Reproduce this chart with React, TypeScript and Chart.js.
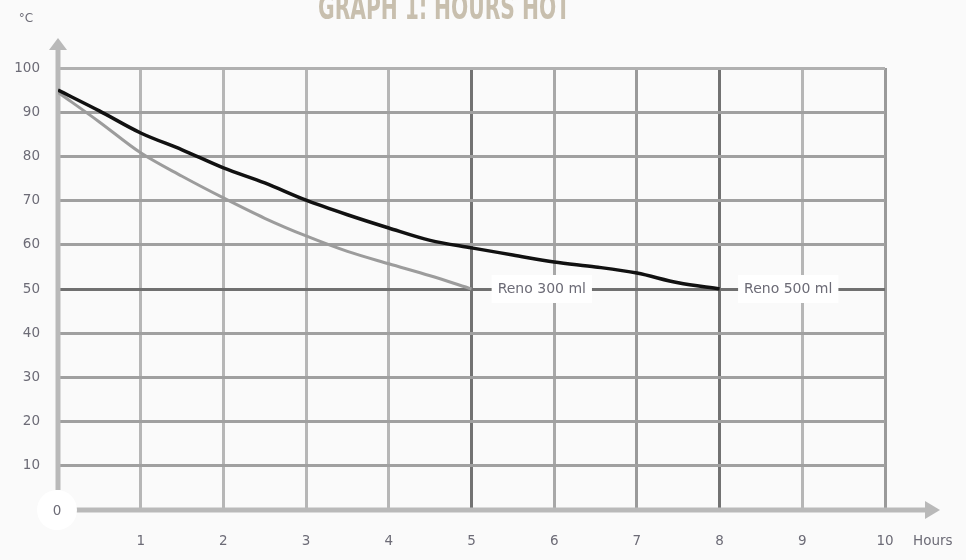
import React, { useEffect, useRef } from "react";
import { Chart, registerables } from "chart.js";

Chart.register(...registerables);

const titleText = "GRAPH 1: HOURS HOT";
const yUnit = "°C";
const xUnit = "Hours";

const hours500 = [0, 0.5, 1, 1.5, 2, 2.5, 3, 3.5, 4, 4.5, 5, 5.5, 6, 6.5, 7, 7.5, 8];
const reno500 = [95, 90.3, 85.3, 81.5, 77.4, 74, 70.1, 66.8, 63.8, 61, 59.3, 57.7, 56.1, 55, 53.6, 51.4, 50];

const hours300 = [0, 0.5, 1, 1.5, 2, 2.5, 3, 3.5, 4, 4.5, 5];
const reno300 = [94.5, 87.8, 80.8, 75.5, 70.6, 66, 62, 58.5, 55.7, 53, 50];

const seriesNames = ["Reno 300 ml", "Reno 500 ml"];
const seriesLabelX = [5.85, 8.83];
const seriesLabelY = [50, 50];

const xMin = 0;
const xMax = 10;
const yMin = 0;
const yMax = 100;

const TEXT = "#6c6b76";
const FONT = '"DejaVu Sans", sans-serif';

const decorPlugin = {
  id: "decor",
  beforeDatasetsDraw(chart: any) {
    const { ctx, scales } = chart;
    const xs = scales.x;
    const ys = scales.y;
    const x0 = xs.getPixelForValue(0);
    const y0 = ys.getPixelForValue(0);
    const yTop = ys.getPixelForValue(yMax);
    const xRight = xs.getPixelForValue(xMax);
    ctx.save();
    ctx.strokeStyle = "#b9b9b9";
    ctx.fillStyle = "#b9b9b9";
    ctx.lineWidth = 5;
    // y axis
    ctx.beginPath();
    ctx.moveTo(x0, y0 - 20);
    ctx.lineTo(x0, yTop - 20);
    ctx.stroke();
    ctx.beginPath();
    ctx.moveTo(x0, yTop - 30);
    ctx.lineTo(x0 - 9, yTop - 18);
    ctx.lineTo(x0 + 9, yTop - 18);
    ctx.closePath();
    ctx.fill();
    // x axis
    ctx.beginPath();
    ctx.moveTo(x0 + 18, y0);
    ctx.lineTo(xRight + 42, y0);
    ctx.stroke();
    ctx.beginPath();
    ctx.moveTo(xRight + 55, y0);
    ctx.lineTo(xRight + 40, y0 - 9);
    ctx.lineTo(xRight + 40, y0 + 9);
    ctx.closePath();
    ctx.fill();
    ctx.restore();
  },
  afterDatasetsDraw(chart: any) {
    const { ctx, scales } = chart;
    const xs = scales.x;
    const ys = scales.y;
    ctx.save();
    // series labels
    ctx.font = `14px ${FONT}`;
    ctx.textAlign = "center";
    ctx.textBaseline = "middle";
    seriesNames.forEach((name, i) => {
      const cx = xs.getPixelForValue(seriesLabelX[i]);
      const cy = ys.getPixelForValue(seriesLabelY[i]);
      const w = ctx.measureText(name).width + 12;
      ctx.fillStyle = "#ffffff";
      ctx.fillRect(cx - w / 2, cy - 14, w, 28);
      ctx.fillStyle = TEXT;
      ctx.fillText(name, cx, cy);
    });
    // origin circle
    const x0 = xs.getPixelForValue(0);
    const y0 = ys.getPixelForValue(0);
    ctx.fillStyle = "#ffffff";
    ctx.beginPath();
    ctx.arc(x0 - 1, y0, 20, 0, Math.PI * 2);
    ctx.fill();
    ctx.fillStyle = TEXT;
    ctx.font = `13.5px ${FONT}`;
    ctx.fillText("0", x0 - 1, y0 + 1);
    // units
    ctx.font = `12px ${FONT}`;
    ctx.fillText(yUnit, 26, 19);
    ctx.textAlign = "left";
    ctx.font = `13.5px ${FONT}`;
    ctx.fillText(xUnit, 913, 541);
    // title
    ctx.font = `bold 34px "DejaVu Sans Condensed", sans-serif`;
    ctx.textAlign = "center";
    ctx.textBaseline = "alphabetic";
    ctx.fillStyle = "#c8bfae";
    ctx.fillText(titleText, 444, 19, 252);
    ctx.restore();
  },
};

const vGridColor = (v: number) => {
  if (v === 0) return "rgba(0,0,0,0)";
  if (v === 5 || v === 8) return "#727272";
  if (v === 7 || v === 10) return "#9a9a9a";
  if (v === 6) return "#a8a8a8";
  return "#b6b6b6";
};
const hGridColor = (v: number) => {
  if (v === 0) return "rgba(0,0,0,0)";
  if (v === 50) return "#707070";
  if (v === 100) return "#b0b0b0";
  return "#a0a0a0";
};

export default function App() {
  const ref = useRef<HTMLCanvasElement | null>(null);
  useEffect(() => {
    if (!ref.current) return;
    const chart = new Chart(ref.current, {
      type: "line",
      data: {
        datasets: [
          {
            label: seriesNames[1],
            data: hours500.map((h, i) => ({ x: h, y: reno500[i] })),
            borderColor: "#111111",
            borderWidth: 3.5,
            pointRadius: 0,
            cubicInterpolationMode: "monotone",
            fill: false,
          },
          {
            label: seriesNames[0],
            data: hours300.map((h, i) => ({ x: h, y: reno300[i] })),
            borderColor: "#9c9c9c",
            borderWidth: 3,
            pointRadius: 0,
            cubicInterpolationMode: "monotone",
            fill: false,
          },
        ],
      },
      options: {
        animation: false,
        responsive: false,
        devicePixelRatio: 1,
        layout: { padding: { top: 68, right: 81, left: 0, bottom: 0 } },
        plugins: {
          legend: { display: false },
          tooltip: { enabled: false },
          title: { display: false },
        },
        scales: {
          x: {
            type: "linear",
            min: xMin,
            max: xMax,
            afterFit: (s: any) => {
              s.height = 50;
            },
            border: { display: false },
            grid: {
              color: (c: any) => vGridColor(c.tick ? c.tick.value : -1),
              lineWidth: 3,
              drawTicks: false,
            },
            ticks: {
              stepSize: 1,
              padding: 23,
              color: TEXT,
              font: { family: FONT, size: 13.5 },
              maxRotation: 0,
              callback: (v: any) => (v === 0 ? "" : String(v)),
            },
          },
          y: {
            type: "linear",
            min: yMin,
            max: yMax,
            afterFit: (s: any) => {
              s.width = 58;
            },
            border: { display: false },
            grid: {
              color: (c: any) => hGridColor(c.tick ? c.tick.value : -1),
              lineWidth: 3,
              drawTicks: false,
            },
            ticks: {
              stepSize: 10,
              padding: 18,
              color: TEXT,
              font: { family: FONT, size: 13.5 },
              callback: (v: any) => (v === 0 ? "" : String(v)),
            },
          },
        },
      },
      plugins: [decorPlugin],
    } as any);
    return () => chart.destroy();
  }, []);
  return (
    <div
      style={{
        position: "fixed",
        left: 0,
        top: 0,
        width: 966,
        height: 560,
        background: "#fafafa",
      }}
    >
      <canvas ref={ref} width={966} height={560} />
    </div>
  );
}
